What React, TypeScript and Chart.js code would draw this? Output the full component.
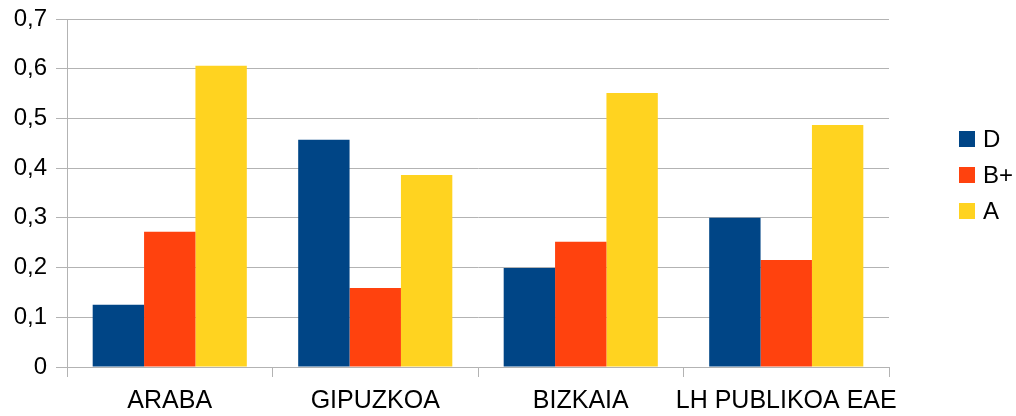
import React, { useEffect, useRef } from "react";
import { Chart, registerables } from "chart.js";

Chart.register(...registerables);

const categories = ["ARABA", "GIPUZKOA", "BIZKAIA", "LH PUBLIKOA EAE"];
const seriesD = [0.125, 0.457, 0.199, 0.3];
const seriesBplus = [0.272, 0.159, 0.252, 0.215];
const seriesA = [0.606, 0.386, 0.551, 0.487];
const seriesNames = ["D", "B+", "A"];
const colors = ["#004586", "#ff420e", "#ffd320"];

const FONT = "'Liberation Sans', Arial, sans-serif";

const legendPlugin = {
  id: "customLegend",
  afterDraw(chart: any) {
    const ctx = chart.ctx;
    ctx.save();
    const startY = 139;
    const step = 36;
    chart.data.datasets.forEach((ds: any, i: number) => {
      const cy = startY + i * step;
      ctx.fillStyle = ds.backgroundColor;
      ctx.fillRect(959, cy - 8, 16, 16);
      ctx.fillStyle = "#000";
      ctx.font = `24px ${FONT}`;
      ctx.textBaseline = "middle";
      ctx.textAlign = "left";
      ctx.fillText(ds.label, 983, cy + 1);
    });
    ctx.restore();
  },
};

export default function App() {
  const ref = useRef<HTMLCanvasElement>(null);
  useEffect(() => {
    const datasets = [seriesD, seriesBplus, seriesA].map((d, i) => ({
      label: seriesNames[i],
      data: d,
      backgroundColor: colors[i],
      borderWidth: 0,
      categoryPercentage: 0.75,
      barPercentage: 1.0,
    }));
    const chart = new Chart(ref.current!, {
      type: "bar",
      data: { labels: categories, datasets },
      options: {
        animation: false,
        responsive: false,
        maintainAspectRatio: false,
        layout: { padding: { top: 19, right: 127, left: 0, bottom: 0 } },
        plugins: { legend: { display: false }, tooltip: { enabled: false } },
        scales: {
          x: {
            grid: {
              drawOnChartArea: false,
              drawTicks: true,
              tickLength: 10,
              color: "#b3b3b3",
              offset: true,
            },
            border: { color: "#b3b3b3" },
            ticks: {
              color: "#000",
              font: { family: FONT, size: 25 },
              padding: 9,
              maxRotation: 0,
              autoSkip: false,
            },
            afterFit(scale: any) {
              scale.height = 49;
            },
          },
          y: {
            min: 0,
            max: 0.7,
            grid: { color: "#b3b3b3", tickLength: 11, drawTicks: true },
            border: { color: "#b3b3b3" },
            ticks: {
              stepSize: 0.1,
              color: "#000",
              font: { family: FONT, size: 24 },
              padding: 9,
              callback: (v: any) =>
                Number(v) === 0 ? "0" : Number(v).toFixed(1).replace(".", ","),
            },
            afterFit(scale: any) {
              scale.width = 67;
              scale.paddingTop = 0;
              scale.paddingBottom = 0;
            },
          },
        },
      },
      plugins: [legendPlugin],
    });
    return () => chart.destroy();
  }, []);
  return (
    <div style={{ position: "absolute", left: 0, top: 0, width: 1016, height: 416, background: "#fff" }}>
      <canvas ref={ref} width={1016} height={416} />
    </div>
  );
}
